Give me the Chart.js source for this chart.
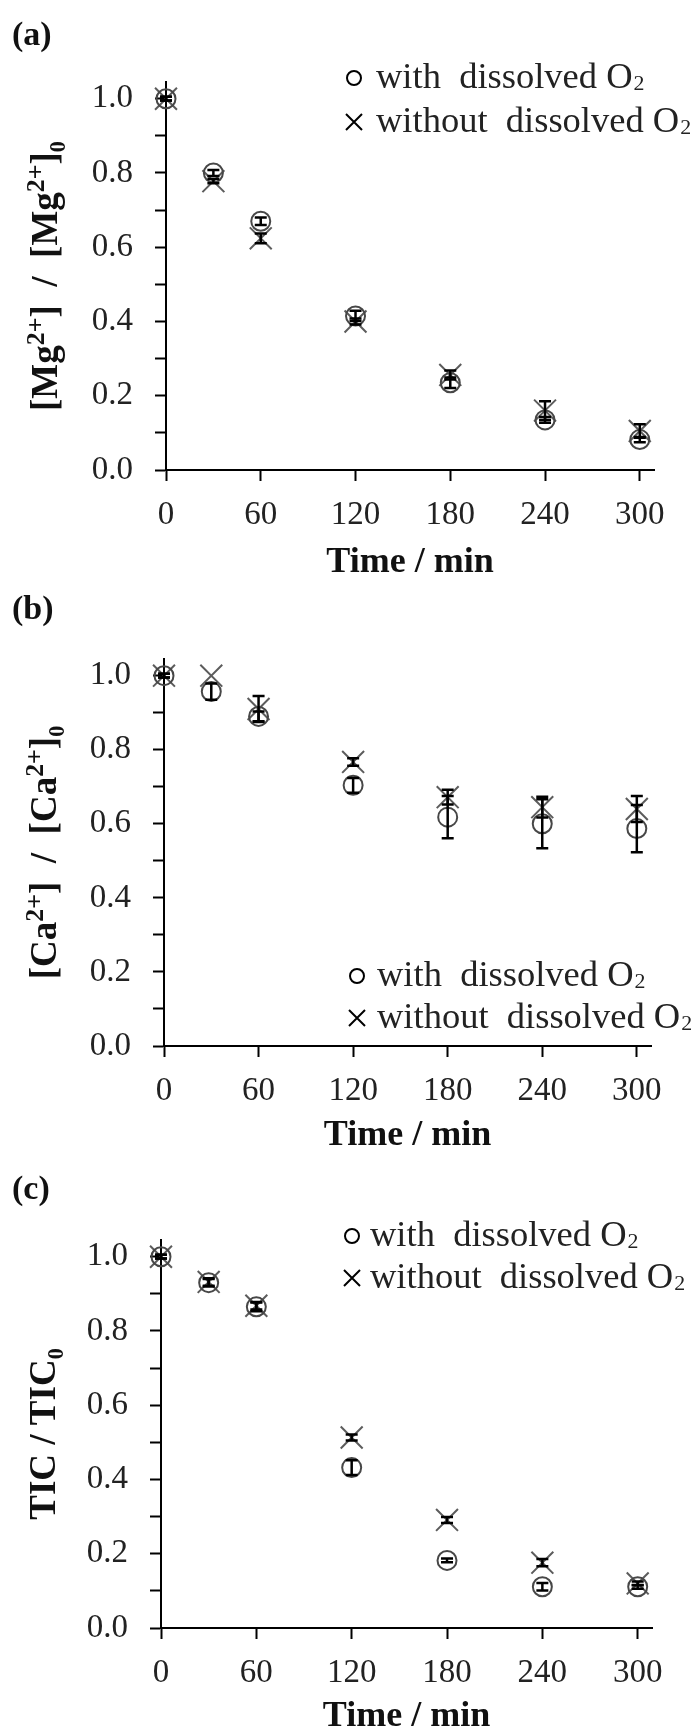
<!DOCTYPE html>
<html>
<head>
<meta charset="utf-8">
<script src="https://cdn.jsdelivr.net/npm/chart.js@4.4.1/dist/chart.umd.min.js"></script>
<style>
  html, body { margin: 0; padding: 0; background: #ffffff; }
  #wrap { position: relative; width: 697px; height: 1735px; overflow: hidden; }
  .panel { position: absolute; left: 0; width: 697px; }
  canvas { display: block; }
</style>
</head>
<body>
<div id="wrap">
  <div class="panel" style="top:0px;height:590px"><canvas id="cA" width="697" height="590"></canvas></div>
  <div class="panel" style="top:590px;height:580px"><canvas id="cB" width="697" height="580"></canvas></div>
  <div class="panel" style="top:1170px;height:565px"><canvas id="cC" width="697" height="565"></canvas></div>
</div>
<script>
// ---------------- data ----------------
const timeMin = [0, 30, 60, 120, 180, 240, 300];
const xTickLabels = ['0', '60', '120', '180', '240', '300'];
const yTickLabels = ['0.0', '0.2', '0.4', '0.6', '0.8', '1.0'];
const seriesLabels = ['with dissolved O₂', 'without dissolved O₂'];
const xTitle = 'Time / min';

// (a) Mg2+
const mgWith        = [1.00, 0.800, 0.670, 0.415, 0.235, 0.135, 0.082];
const mgWithErr     = [0.005, 0.008, 0.010, 0.014, 0.014, 0.008, 0.007];
const mgWithout     = [1.00, 0.778, 0.624, 0.400, 0.256, 0.160, 0.105];
const mgWithoutErr  = [0.005, 0.006, 0.013, 0.008, 0.012, 0.025, 0.018];

// (b) Ca2+
const caWith        = [1.00, 0.957, 0.890, 0.704, 0.618, 0.600, 0.587];
const caWithErr     = [0.005, 0.022, 0.013, 0.020, 0.057, 0.066, 0.064];
const caWithout     = [1.00, 1.000, 0.910, 0.767, 0.672, 0.645, 0.640];
const caWithoutErr  = [0.005, 0.000, 0.035, 0.010, 0.020, 0.028, 0.035];

// (c) TIC
const ticWith       = [1.00, 0.930, 0.865, 0.432, 0.182, 0.111, 0.111];
const ticWithErr    = [0.005, 0.010, 0.012, 0.020, 0.005, 0.010, 0.005];
const ticWithout    = [1.00, 0.932, 0.868, 0.513, 0.291, 0.176, 0.120];
const ticWithoutErr = [0.005, 0.010, 0.010, 0.008, 0.008, 0.010, 0.005];

// ---------------- helpers ----------------
const FAM = '"Liberation Serif", "Times New Roman", Times, serif';
const xTickValues = xTickLabels.map(Number);
const yTickValues = yTickLabels.map(Number);
function pts(vals) { return timeMin.map((t, i) => ({ x: t, y: vals[i] })); }

function errorBars(errLists) {
  return {
    id: 'errorBars',
    afterDatasetsDraw(chart) {
      const ctx = chart.ctx, xs = chart.scales.x, ys = chart.scales.y;
      ctx.save();
      ctx.strokeStyle = '#000';
      ctx.lineWidth = 2.5;
      chart.data.datasets.forEach((ds, di) => {
        const errs = errLists[di];
        ds.data.forEach((p, i) => {
          const e = errs[i];
          if (!e) return;
          const x = xs.getPixelForValue(p.x);
          const y1 = ys.getPixelForValue(p.y + e);
          const y2 = ys.getPixelForValue(p.y - e);
          ctx.beginPath();
          ctx.moveTo(x, y1); ctx.lineTo(x, y2);
          ctx.moveTo(x - 6, y1); ctx.lineTo(x + 6, y1);
          ctx.moveTo(x - 6, y2); ctx.lineTo(x + 6, y2);
          ctx.stroke();
        });
      });
      ctx.restore();
    }
  };
}

function decor(cfg) {
  return {
    id: 'decor',
    afterDraw(chart) {
      const ctx = chart.ctx, ca = chart.chartArea;
      ctx.save();
      ctx.fillStyle = '#111';
      // panel label
      ctx.font = 'bold 34px ' + FAM;
      ctx.textAlign = 'left';
      ctx.textBaseline = 'middle';
      ctx.fillText(cfg.panel, 12, cfg.panelY);

      // rotated y-axis title with super/subscripts
      const size = cfg.ySize;
      ctx.translate(cfg.yTitleX, (ca.top + ca.bottom) / 2);
      ctx.rotate(-Math.PI / 2);
      ctx.textBaseline = 'alphabetic';
      let total = 0;
      cfg.yTitle.forEach(seg => {
        ctx.font = 'bold ' + (size * seg[1]) + 'px ' + FAM;
        total += ctx.measureText(seg[0]).width;
      });
      let x = -total / 2;
      const base = size * 0.33;
      cfg.yTitle.forEach(seg => {
        ctx.font = 'bold ' + (size * seg[1]) + 'px ' + FAM;
        ctx.fillText(seg[0], x, base + seg[2] * size);
        x += ctx.measureText(seg[0]).width;
      });
      ctx.setTransform(1, 0, 0, 1, 0, 0);

      // legend
      const lsize = cfg.legSize;
      chart.data.datasets.forEach((ds, i) => {
        const y = cfg.legY[i];
        const mx = cfg.legMarkX;
        ctx.strokeStyle = '#000';
        ctx.lineWidth = 2;
        ctx.beginPath();
        if (i === 0) {
          ctx.arc(mx, y, 7, 0, Math.PI * 2);
        } else {
          ctx.moveTo(mx - 8, y - 8); ctx.lineTo(mx + 8, y + 8);
          ctx.moveTo(mx + 8, y - 8); ctx.lineTo(mx - 8, y + 8);
        }
        ctx.stroke();
        let label = ds.label;
        let sub = '';
        if (label.endsWith('₂')) { sub = '2'; label = label.slice(0, -1); }
        label = label.replace(' dissolved', '  dissolved');
        ctx.fillStyle = '#222';
        ctx.textAlign = 'left';
        ctx.textBaseline = 'middle';
        ctx.font = lsize + 'px ' + FAM;
        ctx.fillText(label, cfg.legTextX, y);
        const w = ctx.measureText(label).width;
        if (sub) {
          ctx.font = (lsize * 0.6) + 'px ' + FAM;
          ctx.fillText(sub, cfg.legTextX + w + 1, y + lsize * 0.18);
        }
      });
      ctx.restore();
    }
  };
}

function makeChart(id, cfg) {
  return new Chart(document.getElementById(id), {
    type: 'scatter',
    data: {
      datasets: [
        { label: seriesLabels[0], data: pts(cfg.withVals), pointStyle: 'circle',
          pointRadius: 9.5, pointHoverRadius: 9.5, pointBorderWidth: 2,
          borderColor: '#474747', backgroundColor: 'rgba(0,0,0,0)', clip: false },
        { label: seriesLabels[1], data: pts(cfg.withoutVals), pointStyle: 'crossRot',
          pointRadius: 15.5, pointHoverRadius: 15.5, pointBorderWidth: 2,
          borderColor: '#5c5c5c', backgroundColor: 'rgba(0,0,0,0)', clip: false }
      ]
    },
    options: {
      responsive: false,
      animation: false,
      events: [],
      layout: { padding: { left: 0, right: cfg.right, top: cfg.top, bottom: 0 } },
      plugins: { legend: { display: false }, tooltip: { enabled: false } },
      scales: {
        x: {
          type: 'linear', min: 0, max: 309,
          afterFit(s) { s.height = cfg.xh; },
          border: { display: true, color: '#000', width: 2 },
          grid: { display: true, drawOnChartArea: false, drawTicks: true, tickLength: 11, tickWidth: 2, tickColor: '#000' },
          ticks: {
            stepSize: 60, includeBounds: false, autoSkip: false, maxRotation: 0, padding: 18,
            color: '#222', font: { family: FAM, size: 33, lineHeight: 1 },
            callback: (v) => { const k = xTickValues.indexOf(v); return k >= 0 ? xTickLabels[k] : ''; }
          },
          title: { display: true, text: xTitle, color: '#111',
            font: { family: FAM, size: 36, weight: 'bold', lineHeight: 1 },
            padding: { top: 0, bottom: cfg.tpad } }
        },
        y: {
          type: 'linear', min: 0, max: 1.045,
          afterFit(s) { s.width = cfg.yw; },
          border: { display: true, color: '#000', width: 2 },
          grid: { display: true, drawOnChartArea: false, drawTicks: true, tickLength: 11, tickWidth: 2, tickColor: '#000' },
          ticks: {
            stepSize: 0.1, includeBounds: false, autoSkip: false, padding: 22,
            color: '#222', font: { family: FAM, size: 33, lineHeight: 1 },
            callback: (v) => { const k = yTickValues.findIndex(t => Math.abs(t - v) < 1e-6); return k >= 0 ? yTickLabels[k] : ''; }
          },
          title: { display: false }
        }
      }
    },
    plugins: [errorBars(cfg.errs), decor(cfg)]
  });
}

makeChart('cA', {
  withVals: mgWith, withoutVals: mgWithout, errs: [mgWithErr, mgWithoutErr],
  top: 82, right: 43, yw: 166, xh: 120, tpad: 9,
  panel: '(a)', panelY: 36,
  yTitle: [['[Mg', 1, 0], ['2+', 0.7, -0.36], [']  /  [Mg', 1, 0], ['2+', 0.7, -0.36], [']', 1, 0], ['0', 0.6, 0.2]],
  ySize: 37, yTitleX: 45,
  legY: [78, 122], legMarkX: 354, legTextX: 376, legSize: 36.5
});
makeChart('cB', {
  withVals: caWith, withoutVals: caWithout, errs: [caWithErr, caWithoutErr],
  top: 69, right: 46, yw: 164, xh: 124, tpad: 16,
  panel: '(b)', panelY: 20,
  yTitle: [['[Ca', 1, 0], ['2+', 0.7, -0.36], [']  /  [Ca', 1, 0], ['2+', 0.7, -0.36], [']', 1, 0], ['0', 0.6, 0.2]],
  ySize: 37, yTitleX: 44,
  legY: [386, 428], legMarkX: 357, legTextX: 377, legSize: 36.5
});
makeChart('cC', {
  withVals: ticWith, withoutVals: ticWithout, errs: [ticWithErr, ticWithoutErr],
  top: 70, right: 45, yw: 161, xh: 107, tpad: 0,
  panel: '(c)', panelY: 20,
  yTitle: [['TIC / TIC', 1, 0], ['0', 0.6, 0.2]],
  ySize: 37, yTitleX: 43,
  legY: [66, 108], legMarkX: 352, legTextX: 370, legSize: 36.5
});
</script>
</body>
</html>
